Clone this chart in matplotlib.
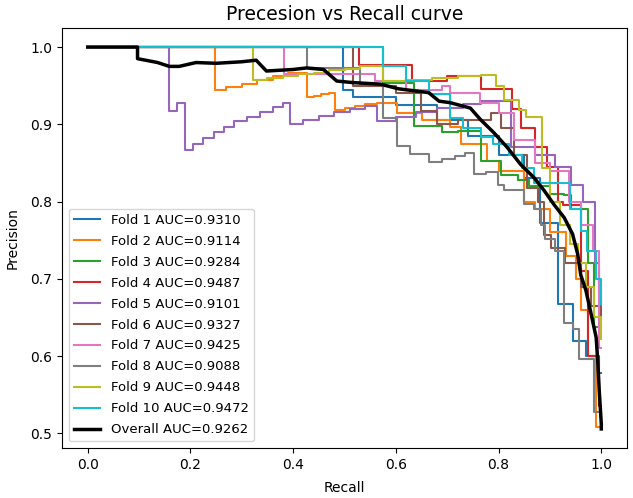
import matplotlib
matplotlib.use('Agg')
import matplotlib.pyplot as plt

# fold curves (recall, precision step points)
fold_names = ['Fold 1', 'Fold 2', 'Fold 3', 'Fold 4', 'Fold 5',
              'Fold 6', 'Fold 7', 'Fold 8', 'Fold 9', 'Fold 10']
fold_auc = [0.9310, 0.9114, 0.9284, 0.9487, 0.9101,
            0.9327, 0.9425, 0.9088, 0.9448, 0.9472]

rec1 = [0, 0.498, 0.516, 0.60, 0.68, 0.74, 0.80, 0.85, 0.88, 0.915, 0.944,
        0.97, 0.99, 1.0]
prec1 = [1.0, 0.944, 0.935, 0.925, 0.905, 0.885, 0.86, 0.83, 0.772, 0.667,
         0.619, 0.60, 0.578, 0.578]

rec2 = [0, 0.248, 0.27, 0.30, 0.33, 0.36, 0.39, 0.426, 0.44, 0.455, 0.47,
        0.482, 0.50, 0.52, 0.54, 0.563, 0.602, 0.65, 0.706, 0.727, 0.778,
        0.80, 0.85, 0.87, 0.90, 0.932, 0.95, 0.96, 0.975, 0.99, 1.0]
prec2 = [1.0, 0.944, 0.948, 0.952, 0.958, 0.962, 0.967, 0.935, 0.937, 0.939,
         0.941, 0.919, 0.921, 0.924, 0.926, 0.928, 0.915, 0.905, 0.896, 0.874,
         0.852, 0.84, 0.80, 0.79, 0.76, 0.73, 0.70, 0.66, 0.60, 0.508, 0.508]

rec3 = [0, 0.575, 0.635, 0.69, 0.72, 0.765, 0.805, 0.837, 0.86, 0.90,
        0.928, 0.941, 0.96, 0.975, 0.985, 1.0]
prec3 = [1.0, 0.954, 0.898, 0.89, 0.891, 0.852, 0.835, 0.828, 0.82, 0.81,
         0.809, 0.79, 0.79, 0.72, 0.637, 0.637]

rec4 = [0, 0.529, 0.631, 0.70, 0.765, 0.827, 0.843, 0.87, 0.895, 0.915,
        0.925, 0.96, 0.974, 0.995, 1.0]
prec4 = [1.0, 0.977, 0.956, 0.962, 0.946, 0.92, 0.895, 0.87, 0.845, 0.80,
         0.795, 0.71, 0.60, 0.535, 0.535]

rec5 = [0, 0.159, 0.173, 0.190, 0.205, 0.225, 0.245, 0.265, 0.285, 0.31,
        0.335, 0.36, 0.38, 0.394, 0.42, 0.45, 0.48, 0.51, 0.54, 0.563, 0.60,
        0.64, 0.68, 0.73, 0.765, 0.824, 0.87, 0.91, 0.941, 0.965, 0.987,
        0.995, 1.0]
prec5 = [1.0, 0.917, 0.928, 0.867, 0.874, 0.882, 0.890, 0.897, 0.904, 0.910,
         0.916, 0.922, 0.927, 0.901, 0.906, 0.911, 0.916, 0.920, 0.924, 0.904,
         0.910, 0.916, 0.921, 0.926, 0.930, 0.870, 0.860, 0.845, 0.822, 0.80,
         0.72, 0.685, 0.685]

rec6 = [0, 0.516, 0.60, 0.648, 0.68, 0.72, 0.785, 0.804, 0.83, 0.856,
        0.876, 0.889, 0.902, 0.93, 0.96, 0.98, 1.0]
prec6 = [1.0, 0.95, 0.94, 0.917, 0.90, 0.905, 0.915, 0.895, 0.86, 0.818,
         0.80, 0.757, 0.74, 0.72, 0.69, 0.665, 0.648]

rec7 = [0, 0.382, 0.56, 0.62, 0.69, 0.706, 0.764, 0.80, 0.83, 0.87, 0.90,
        0.912, 0.938, 0.96, 0.984, 0.995, 1.0]
prec7 = [1.0, 0.965, 0.956, 0.945, 0.95, 0.941, 0.928, 0.915, 0.88, 0.85,
         0.84, 0.84, 0.80, 0.77, 0.736, 0.61, 0.61]

rec8 = [0, 0.426, 0.53, 0.574, 0.602, 0.628, 0.665, 0.69, 0.715, 0.735,
        0.752, 0.775, 0.798, 0.81, 0.85, 0.869, 0.882, 0.89, 0.91, 0.928,
        0.944, 0.957, 0.985, 1.0]
prec8 = [1.0, 0.973, 0.952, 0.908, 0.872, 0.862, 0.851, 0.855, 0.859, 0.863,
         0.836, 0.838, 0.822, 0.815, 0.797, 0.79, 0.77, 0.752, 0.736, 0.643,
         0.635, 0.596, 0.527, 0.527]

rec9 = [0, 0.322, 0.35, 0.38, 0.41, 0.44, 0.47, 0.50, 0.53, 0.574, 0.62,
        0.67, 0.72, 0.765, 0.795, 0.811, 0.840, 0.853, 0.884, 0.90, 0.92,
        0.94, 0.955, 0.97, 0.985, 1.0]
prec9 = [1.0, 0.958, 0.960, 0.962, 0.965, 0.967, 0.970, 0.972, 0.975, 0.956,
         0.958, 0.960, 0.962, 0.964, 0.950, 0.932, 0.919, 0.909, 0.844, 0.80,
         0.77, 0.745, 0.72, 0.69, 0.65, 0.622]

rec10 = [0, 0.574, 0.620, 0.664, 0.706, 0.73, 0.765, 0.79, 0.82, 0.845,
         0.869, 0.94, 0.96, 0.973, 0.99, 1.0]
prec10 = [1.0, 0.976, 0.956, 0.939, 0.908, 0.895, 0.883, 0.875, 0.86, 0.843,
          0.824, 0.79, 0.762, 0.736, 0.70, 0.668]

# overall curve
rec_all = [0, 0.097, 0.097, 0.136, 0.159, 0.178, 0.211, 0.25, 0.30, 0.328,
           0.348, 0.40, 0.426, 0.459, 0.485, 0.517, 0.570, 0.605, 0.664,
           0.684, 0.706, 0.745, 0.765, 0.791, 0.817, 0.843, 0.869, 0.889,
           0.908, 0.928, 0.944, 0.954, 0.960, 0.970, 0.979, 0.990, 0.993,
           0.996, 1.0, 1.0]
prec_all = [1.0, 1.0, 0.985, 0.980, 0.975, 0.975, 0.980, 0.979, 0.981, 0.983,
            0.969, 0.971, 0.973, 0.971, 0.956, 0.954, 0.952, 0.946, 0.941,
            0.930, 0.928, 0.921, 0.906, 0.889, 0.870, 0.848, 0.831, 0.814,
            0.796, 0.779, 0.758, 0.732, 0.705, 0.685, 0.658, 0.624, 0.594,
            0.555, 0.512, 0.5057]
overall_auc = 0.9262

recalls = [rec1, rec2, rec3, rec4, rec5, rec6, rec7, rec8, rec9, rec10]
precisions = [prec1, prec2, prec3, prec4, prec5, prec6, prec7, prec8, prec9,
              prec10]

fig = plt.figure(figsize=(6.33, 4.98), dpi=100)
fig.subplots_adjust(left=0.098, right=0.9905, bottom=0.1004, top=0.9438)
ax = fig.add_subplot(111)

for i in range(len(fold_names)):
    ax.plot(recalls[i], precisions[i], drawstyle='steps-post', color='C' + str(i),
            lw=1.5, label=fold_names[i] + ' AUC=' + format(fold_auc[i], '.4f'))
ax.plot(rec_all, prec_all, color='black', lw=2.5,
        label='Overall AUC=' + format(overall_auc, '.4f'))

ax.set_title('Precesion vs Recall curve', fontsize=13.5)
ax.set_xlabel('Recall', labelpad=7)
ax.set_ylabel('Precision', labelpad=8)
ax.legend(loc='lower left', fontsize=9.5, labelspacing=0.6)

fig.savefig('out.png', dpi=100)
